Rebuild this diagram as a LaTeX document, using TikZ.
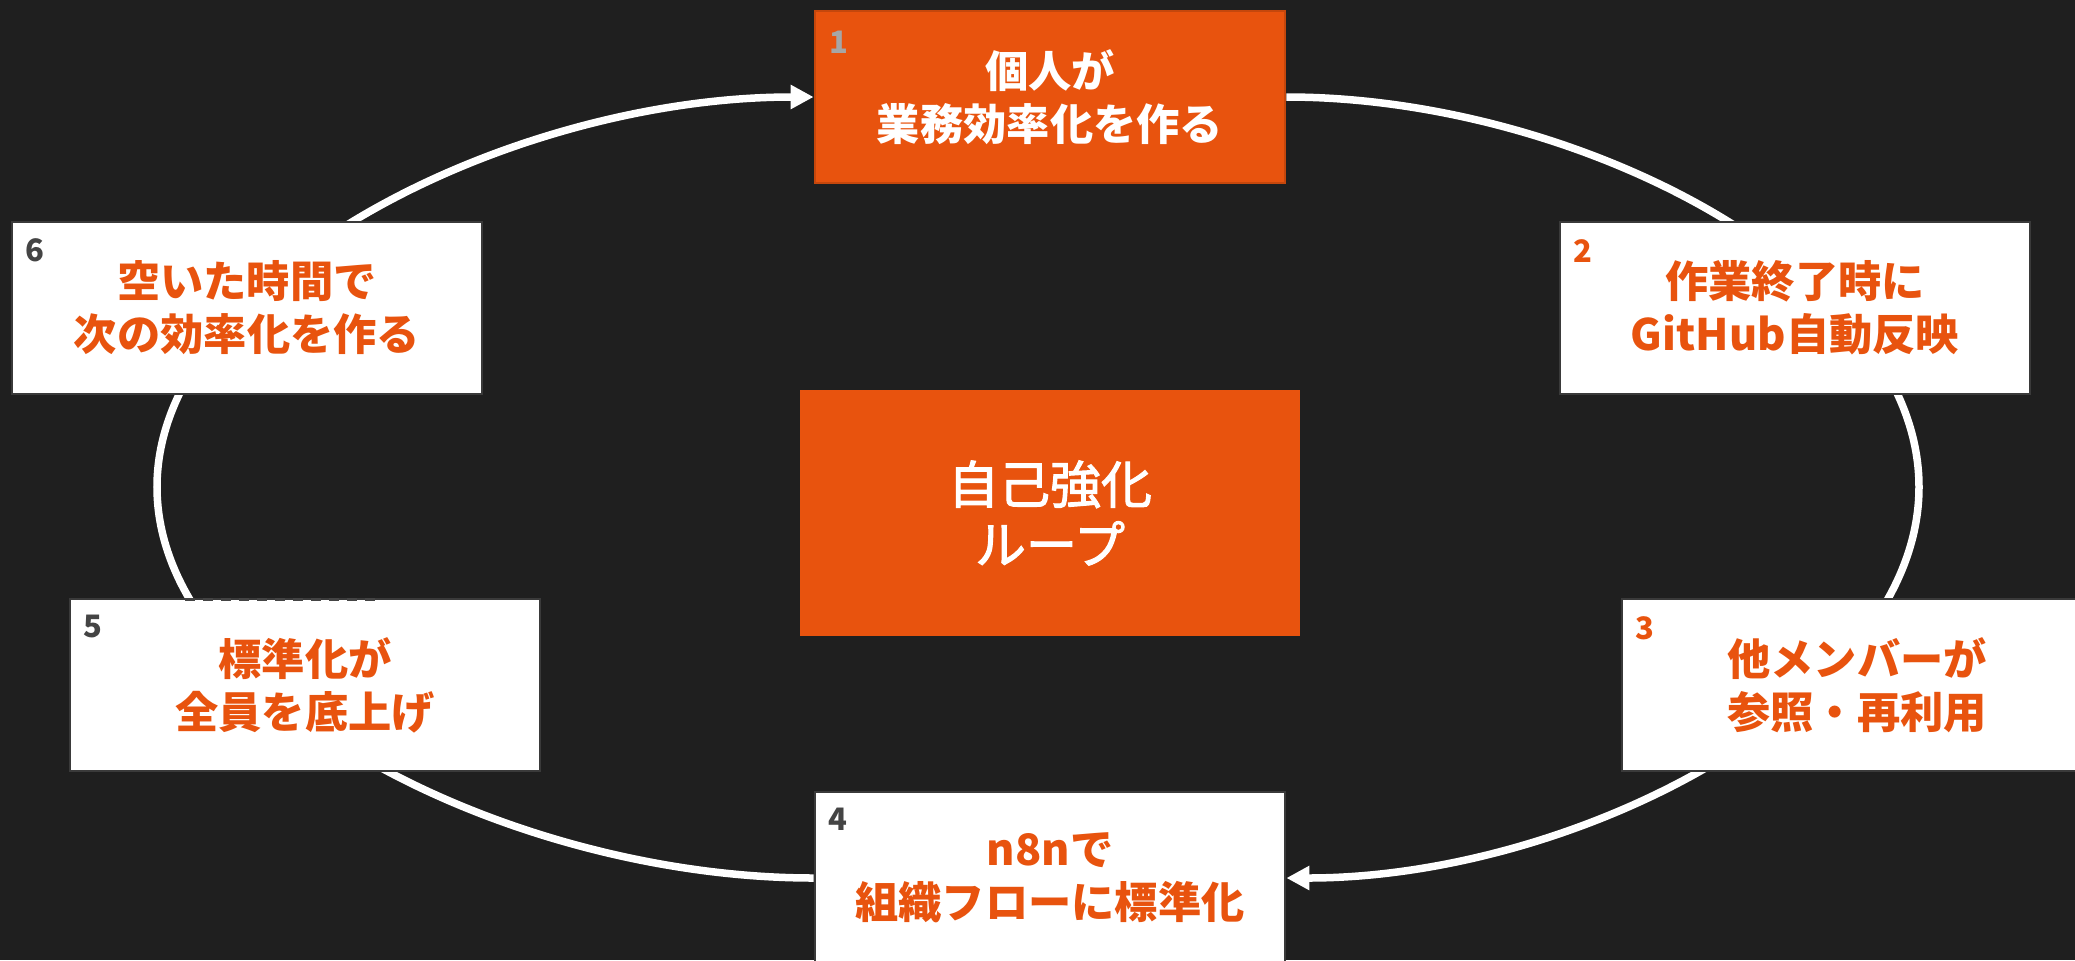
\documentclass[tikz,border=0pt]{standalone}
\usepackage{fontspec}
\newfontfamily\jp{Noto Sans CJK JP}
\newfontfamily\jpm{Noto Sans CJK JP}[FakeBold=2]
\usetikzlibrary{calc,arrows.meta}
\definecolor{bgc}{HTML}{1F1F1F}
\definecolor{org}{HTML}{E8530E}
\definecolor{dgray}{HTML}{444444}
\definecolor{lgray}{HTML}{A6A6A6}
\definecolor{bdr}{HTML}{3A3A3A}
\pgfdeclarelayer{back}
\pgfdeclarelayer{lines}
\pgfsetlayers{back,lines,main}
\begin{document}
\begin{tikzpicture}[x=0.01cm,y=-0.01cm,
  wbox/.style={draw=bdr,line width=0.025cm,fill=white,minimum width=4.70cm,minimum height=1.72cm,inner sep=0pt,text=org,font=\jp\bfseries\fontsize{12.3pt}{15.1pt}\selectfont,align=center},
  obox/.style={wbox,draw=org!85!black,fill=org,text=white},
  cbox/.style={fill=org,minimum width=5.0cm,minimum height=2.46cm,inner sep=0pt,text=white,font=\jpm\fontsize{14.5pt}{17.1pt}\selectfont,align=center},
  numlbl/.style={font=\jp\bfseries\fontsize{8.8pt}{9pt}\selectfont,inner sep=0pt},
  loopline/.style={white,line width=0.075cm},
  arrowend/.style={-{Triangle[length=0.23cm,width=0.23cm]}},
  dashline/.style={dgray,line width=0.03cm,dash pattern=on 0.10cm off 0.08cm}]
\useasboundingbox (0,0) rectangle (2075,960);
\begin{pgfonlayer}{back}
\fill[bgc] (0,0) rectangle (2075,960);
\end{pgfonlayer}

\node[obox] (n1) at (1050,97) {個人が\\業務効率化を作る};
\node[wbox] (n2) at (1795,308) {作業終了時に\\GitHub自動反映};
\node[wbox] (n3) at (1857,685) {他メンバーが\\参照・再利用};
\node[wbox] (n4) at (1050,878) {n8nで\\組織フローに標準化};
\node[wbox] (n5) at (305,685) {標準化が\\全員を底上げ};
\node[wbox] (n6) at (247,308) {空いた時間で\\次の効率化を作る};
\node[cbox] (c) at (1050,513) {自己強化\\ループ};

\node[numlbl,text=lgray] (k1) at ($(n1.north west)+(25,33)$) {1};
\node[numlbl,text=org] (k2) at ($(n2.north west)+(24,30)$) {2};
\node[numlbl,text=org] (k3) at ($(n3.north west)+(24,31)$) {3};
\node[numlbl,text=dgray] (k4) at ($(n4.north west)+(24,29)$) {4};
\node[numlbl,text=dgray] (k5) at ($(n5.north west)+(24,29)$) {5};
\node[numlbl,text=dgray] (k6) at ($(n6.north west)+(24,30)$) {6};

\coordinate (d1) at ($(n5.north west)+(116,2)$);
\coordinate (d2) at ($(n5.north west)+(311,2)$);
\draw[dashline] (d1) -- (d2);

\coordinate (L) at (157,487);
\coordinate (R) at (1919,487);
\begin{pgfonlayer}{lines}
\draw[loopline,arrowend] (n4.west) .. controls (513,878) and (157,702) .. (L) .. controls (157,272) and (513,97) .. (n1.west);
\draw[loopline,arrowend] (n1.east) .. controls (1576,97) and (1919,272) .. (R) .. controls (1919,702) and (1576,878) .. (n4.east);
\end{pgfonlayer}
\end{tikzpicture}
\end{document}
